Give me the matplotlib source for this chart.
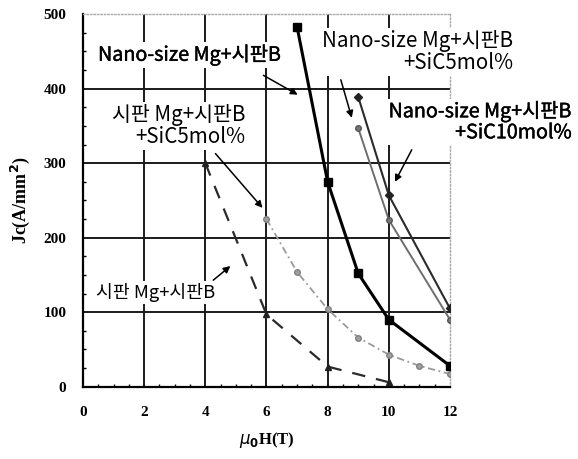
import numpy as np
import matplotlib.pyplot as plt
import matplotlib.patheffects as pe

plt.rcParams['font.family'] = ['Liberation Serif', 'DejaVu Serif']

KR = ['Noto Sans CJK KR', 'DejaVu Sans']

# NOTE: values
nano_x = [7, 8, 9, 10, 12]
nano_y = [483, 275, 152, 90, 28]

nano_sic5_x = [9, 10, 12]
nano_sic5_y = [347, 224, 90]

nano_sic10_x = [9, 10, 12]
nano_sic10_y = [389, 257, 105]

com_x = [4, 6, 8, 10]
com_y = [300, 97, 27, 6]

com_sic5_x = [6, 7, 8, 9, 10, 11, 12]
com_sic5_y = [225, 154, 104, 66, 43, 28, 17]

x_ticks = [0, 2, 4, 6, 8, 10, 12]
y_ticks = [0, 100, 200, 300, 400, 500]

fig = plt.figure(figsize=(5.78, 4.59), dpi=100)
ax = fig.add_axes([0.1436, 0.1575, 0.6349, 0.8115])

ax.set_xlim(0, 12)
ax.set_ylim(0, 500)

# NOTE: grid
for yv in y_ticks[1:-1]:
    ax.axhline(yv, color='#1a1a1a', lw=1.4, zorder=1)
for xv in x_ticks[1:-1]:
    ax.axvline(xv, color='#1a1a1a', lw=1.4, zorder=1)

# NOTE: data
ax.plot(com_sic5_x, com_sic5_y, color='#9a9a9a', lw=1.3,
        ls=(0, (4, 2, 1, 2)),
        marker='o', ms=4, mfc='#a0a0a0', mec='#808080', zorder=4)
ax.plot(com_x, com_y, color='#2a2a2a', lw=1.6, ls=(0, (6, 5)),
        marker='^', ms=5, mfc='#222222', mec='#222222', zorder=4)
ax.plot(nano_sic5_x, nano_sic5_y, color='#6e6e6e', lw=1.4,
        marker='o', ms=4, mfc='#777777', mec='#555555', zorder=4)
ax.plot(nano_sic10_x, nano_sic10_y, color='#2b2b2b', lw=1.5,
        marker='D', ms=4, mfc='#222222', mec='#222222', zorder=4)
ax.plot(nano_x, nano_y, color='black', lw=2.2,
        marker='s', ms=6, mfc='black', mec='black', zorder=5)

# NOTE: spines
for s in ['top', 'right']:
    ax.spines[s].set_color('#aaaaaa')
    ax.spines[s].set_linestyle((0, (1, 1.5)))
    ax.spines[s].set_linewidth(1.0)
for s in ['left', 'bottom']:
    ax.spines[s].set_color('black')
    ax.spines[s].set_linewidth(1.6)

ax.set_xticks(x_ticks)
ax.set_yticks(y_ticks)
ax.set_xticks(np.arange(0, 12.01, 0.5), minor=True)
ax.set_yticks(np.arange(0, 500.1, 25), minor=True)
ax.tick_params(axis='both', which='major', length=0, labelsize=11)
ax.tick_params(axis='x', which='major', pad=14)
ax.tick_params(axis='y', which='major', pad=12)
ax.tick_params(axis='both', which='minor', direction='in', length=2.5,
               width=1.0)
for lab in ax.get_xticklabels() + ax.get_yticklabels():
    lab.set_fontweight('bold')

ax.set_ylabel('Jc(A/mm$^{\\mathbf{2}}$)', fontsize=13, fontweight='bold',
              labelpad=8)
ax.set_xlabel(r'$\mathit{\mu}_{\mathbf{0}}$H(T)', fontsize=12,
              fontweight='bold', labelpad=8)

# NOTE: labels
box = dict(facecolor='white', edgecolor='none', pad=1.5)
heavy = [pe.withStroke(linewidth=0.3, foreground='black')]
ax.text(3.48, 445, 'Nano-size Mg+시판B', ha='center', va='center',
        fontsize=14.2, family=KR, bbox=box, zorder=6, path_effects=heavy)
ax.text(5.31, 350, '시판 Mg+시판B\n+SiC5mol%', ha='right', va='center',
        multialignment='right', fontsize=14.8, family=KR, linespacing=1.0,
        bbox=box, zorder=6)
ax.text(2.38, 126, '시판 Mg+시판B', ha='center', va='center',
        fontsize=13.2, family=KR, bbox=box, zorder=6)
ax.text(14.07, 449, 'Nano-size Mg+시판B\n+SiC5mol%', ha='right',
        va='center', multialignment='right', fontsize=14.8, family=KR,
        linespacing=1.0, bbox=box, zorder=6, clip_on=False)
ax.text(15.97, 355, 'Nano-size Mg+시판B\n+SiC10mol%', ha='right',
        va='center', multialignment='right', fontsize=14.2, family=KR,
        linespacing=1.0, bbox=box, zorder=6, clip_on=False,
        path_effects=heavy)

# NOTE: arrows
arw = dict(arrowstyle='-|>', color='black', lw=1.1, mutation_scale=10,
           shrinkA=0, shrinkB=0)
arrows = [((5.9, 418), (7.02, 392)),
          ((4.33, 313), (5.87, 240)),
          ((4.26, 143), (4.82, 162)),
          ((8.43, 412), (8.79, 361)),
          ((10.75, 318), (10.2, 275))]
for start, end in arrows:
    ax.annotate('', xy=end, xytext=start, arrowprops=arw, zorder=7)

plt.savefig('out.png', dpi=100)
